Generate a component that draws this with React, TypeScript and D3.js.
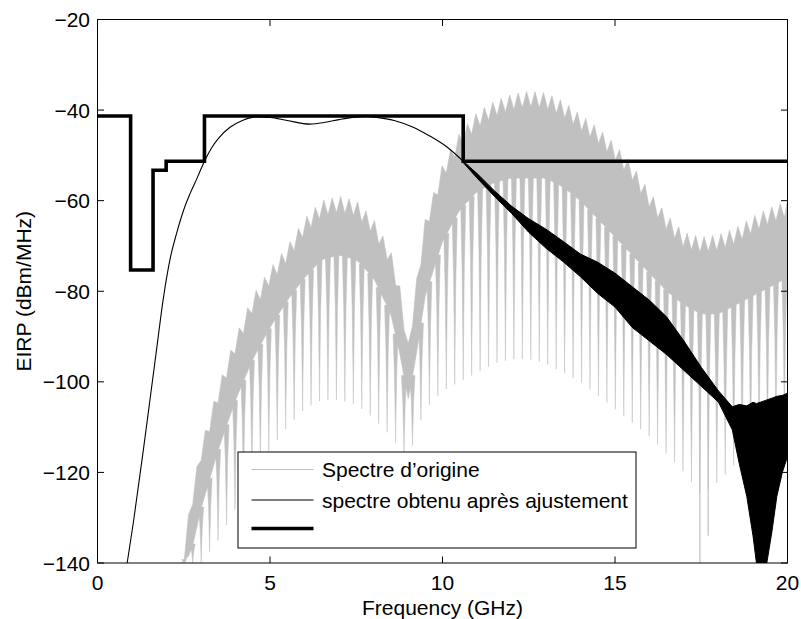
import React from "react";
import * as d3 from "d3";

// ---------- data ----------
const xTicks = [0, 5, 10, 15, 20];
const yTicks = [-140, -120, -100, -80, -60, -40, -20];

// FCC-like EIRP mask (step after)
const maskFreq = [0, 0.96, 1.61, 1.99, 3.1, 10.6, 20];
const maskLevel = [-41.3, -75.3, -53.3, -51.3, -41.3, -51.3, -51.3];

// "spectre obtenu après ajustement" – thin part
const fitFreq = [0.86, 1.05, 1.33, 1.52, 1.71, 1.9, 2.1, 2.3, 2.5, 2.68, 2.9, 3.1, 3.31, 3.5, 3.84, 4.2, 4.61, 5.0, 5.5, 6.16, 6.6, 7.0, 7.41, 7.8, 8.09, 8.6, 9.15, 9.6, 10.12, 10.6];
const fitLevel = [-140, -130.5, -115, -104, -93, -82, -73, -67, -62, -58.5, -54.8, -51.3, -48.3, -46.3, -43.8, -42.3, -41.5, -41.6, -42.3, -43.1, -42.7, -42.1, -41.6, -41.4, -41.6, -42.3, -43.8, -45.6, -48.1, -51.3];

// "spectre obtenu après ajustement" – oscillating band (envelopes)
const bandFreq = [10.6, 11.0, 11.5, 12.0, 12.5, 13.0, 13.5, 14.0, 14.5, 15.0, 15.5, 16.0, 16.5, 17.0, 17.5, 18.0, 18.4, 18.6, 18.82, 19.0, 19.1, 19.4, 19.55, 19.69, 19.85, 20.0];
const bandUpper = [-51.3, -54.0, -57.8, -61.2, -64.0, -66.3, -69.0, -71.8, -73.6, -76.0, -79.0, -82.0, -85.7, -91.0, -96.8, -102.0, -105.5, -105.0, -105.3, -104.5, -104.8, -104.0, -103.6, -103.2, -103.0, -102.5];
const bandLower = [-51.6, -55.0, -59.0, -62.8, -67.0, -70.5, -73.5, -76.8, -80.5, -83.5, -88.0, -91.0, -94.0, -97.5, -101.0, -104.5, -110.6, -118, -125.3, -134, -140, -140, -133, -125.3, -120, -116.5];

// "Spectre d'origine" – envelopes: top of lobes, bottom of solid band, depth of nulls
const greyFreq = [2.44, 2.7, 3.0, 3.5, 4.0, 4.5, 5.0, 5.5, 6.0, 6.5, 7.0, 7.5, 8.0, 8.5, 8.8, 9.0, 9.2, 9.5, 10.0, 10.5, 11.0, 11.5, 12.0, 12.5, 13.0, 13.5, 14.0, 14.5, 15.0, 15.5, 16.0, 16.5, 17.0, 17.5, 18.0, 18.5, 19.0, 19.5, 20.0];
const greyTop = [-140, -126, -114, -101, -90, -81, -75, -70, -64, -60, -59, -60, -64, -71, -80, -92, -80, -64, -52, -45, -40.5, -38, -36.5, -35.8, -36.2, -38, -41, -43.8, -47.5, -52, -58, -63, -67, -68, -67.5, -66, -63.5, -61.5, -60];
const greyBand = [-140, -138, -128, -115, -104, -95, -88, -82, -77, -73, -72, -73, -77, -85, -95, -104, -96, -81, -69, -62, -58, -56, -55, -55, -55, -57, -60, -64, -68, -72, -76, -80, -83, -85, -85, -83, -81, -79, -77];
const greyNull = [-140, -140, -140, -135, -128, -120, -115, -110, -106, -104, -104, -105, -108, -112, -115, -118, -112, -106, -102, -100, -98, -96, -95, -95, -96, -98, -100, -103, -106, -109, -112, -116, -120, -125, -122, -118, -115, -112, -110];
const greyDeepFreq = [17.46, 17.7];
const greyDeepLevel = [-140, -134];
const combPeriod = 0.245; // GHz between the fine teeth of the original spectrum

const legendLabels = ["Spectre d\u2019origine", "spectre obtenu apr\u00e8s ajustement", ""];

// ---------- layout ----------
const W = 801;
const H = 619;
const left = 97.5;
const right = 787.5;
const top = 19.5;
const bottom = 563;
const FONT = "'Liberation Sans', Arial, Helvetica, sans-serif";
const GREY = "#c0c0c0";

export default function App() {
  const x = d3.scaleLinear().domain([0, 20]).range([left, right]);
  const y = d3.scaleLinear().domain([-140, -20]).range([bottom, top]);

  // piecewise scales through the read envelopes
  const topS = d3.scaleLinear().domain(greyFreq).range(greyTop).clamp(true);
  const bandS = d3.scaleLinear().domain(greyFreq).range(greyBand).clamp(true);
  const nullS = d3.scaleLinear().domain(greyFreq).range(greyNull).clamp(true);

  const f0 = greyFreq[0];
  const f1 = greyFreq[greyFreq.length - 1];
  const nulls = d3
    .range(Math.ceil((f0 - greyDeepFreq[0]) / combPeriod), Math.floor((f1 - greyDeepFreq[0]) / combPeriod) + 1)
    .map((k) => greyDeepFreq[0] + k * combPeriod);

  // solid part with notched top
  const topPts: { f: number; t: number; b: number }[] = [];
  topPts.push({ f: f0, t: topS(f0), b: bandS(f0) });
  nulls.forEach((fn) => {
    const b = bandS(fn);
    topPts.push({ f: fn, t: Math.max(b, topS(fn) - 3.5), b });
    const fc = fn + combPeriod / 2;
    if (fc < f1) topPts.push({ f: fc, t: topS(fc), b: bandS(fc) });
  });
  topPts.push({ f: f1, t: topS(f1), b: bandS(f1) });
  const solidArea = d3.area<any>().x((d) => x(d.f)).y0((d) => y(d.b)).y1((d) => y(d.t))(topPts) || "";

  // strips hanging from the solid part (between white notches), tapering to the nulls
  const hw = combPeriod * 0.3;
  const spikes = nulls.map((fn) => {
    const b = bandS(fn);
    const n = nullS(fn);
    const pts: [number, number][] = [
      [x(fn - hw), y(b) - 1],
      [x(fn - hw * 0.45), y(b + (n - b) * 0.35)],
      [x(fn - hw * 0.12), y(b + (n - b) * 0.8)],
      [x(fn), y(n)],
      [x(fn + hw * 0.12), y(b + (n - b) * 0.8)],
      [x(fn + hw * 0.45), y(b + (n - b) * 0.35)],
      [x(fn + hw), y(b) - 1],
    ];
    return d3.line()(pts) + "Z";
  });

  const fitLine = d3.line<number>().x((_, i) => x(fitFreq[i])).y((v) => y(v)).curve(d3.curveMonotoneX)(fitLevel) || "";
  const band = bandFreq.map((f, i) => ({ f, u: bandUpper[i], l: bandLower[i] }));
  const bandArea = d3.area<any>().x((d) => x(d.f)).y0((d) => y(d.l)).y1((d) => y(d.u))(band) || "";

  const maskPath = d3
    .line<number>()
    .x((_, i) => x(maskFreq[i]))
    .y((v) => y(v))
    .curve(d3.curveStepAfter)(maskLevel) || "";

  const tickLen = 6.5;
  const legX = 238, legY = 452, legW = 398, legH = 96;
  const rowY = [469.5, 500, 528.5];

  return (
    <div style={{ position: "absolute", left: 0, top: 0, width: W, height: H, background: "#fff" }}>
      <svg width={W} height={H} viewBox={`0 0 ${W} ${H}`} style={{ display: "block" }}>
        <defs>
          <clipPath id="plotClip">
            <rect x={left} y={top} width={right - left} height={bottom - top} />
          </clipPath>
        </defs>
        <rect x={0} y={0} width={W} height={H} fill="#fff" />
        <g clipPath="url(#plotClip)">
          {spikes.map((d, i) => (
            <path key={i} d={d} fill={GREY} stroke={GREY} strokeWidth={0.5} />
          ))}
          <path d={solidArea} fill={GREY} stroke={GREY} strokeWidth={0.6} />
          {greyDeepFreq.map((f, i) => (
            <line key={i} x1={x(f)} x2={x(f)} y1={y(-84)} y2={y(greyDeepLevel[i])} stroke={GREY} strokeWidth={1.2} />
          ))}
          <path d={fitLine} fill="none" stroke="#000" strokeWidth={1.1} />
          <path d={bandArea} fill="#000" stroke="#000" strokeWidth={1} />
          <path d={maskPath} fill="none" stroke="#000" strokeWidth={3.6} strokeLinejoin="miter" />
        </g>
        {/* axes box */}
        <rect x={left} y={top} width={right - left} height={bottom - top} fill="none" stroke="#000" strokeWidth={1} />
        {xTicks.map((t) => (
          <g key={"x" + t}>
            <line x1={x(t)} x2={x(t)} y1={bottom} y2={bottom - tickLen} stroke="#000" strokeWidth={1} />
            <line x1={x(t)} x2={x(t)} y1={top} y2={top + tickLen} stroke="#000" strokeWidth={1} />
            <text x={x(t)} y={590} textAnchor="middle" fontFamily={FONT} fontSize={21} fill="#000">
              {t}
            </text>
          </g>
        ))}
        {yTicks.map((t) => (
          <g key={"y" + t}>
            <line x1={left} x2={left + tickLen} y1={y(t)} y2={y(t)} stroke="#000" strokeWidth={1} />
            <line x1={right} x2={right - tickLen} y1={y(t)} y2={y(t)} stroke="#000" strokeWidth={1} />
            <text x={90} y={y(t) + 7.5} textAnchor="end" fontFamily={FONT} fontSize={21} fill="#000">
              {t < 0 ? "\u2212" + Math.abs(t) : t}
            </text>
          </g>
        ))}
        <text x={(left + right) / 2} y={615} textAnchor="middle" fontFamily={FONT} fontSize={21} fill="#000">
          Frequency (GHz)
        </text>
        <text
          transform={`translate(31,${(top + bottom) / 2}) rotate(-90)`}
          textAnchor="middle"
          fontFamily={FONT}
          fontSize={21}
          fill="#000"
        >
          EIRP (dBm/MHz)
        </text>
        {/* legend */}
        <rect x={legX} y={legY} width={legW} height={legH} fill="#fff" stroke="#000" strokeWidth={1} />
        <line x1={251.5} x2={313.5} y1={rowY[0]} y2={rowY[0]} stroke={GREY} strokeWidth={1} />
        <line x1={251.5} x2={313.5} y1={rowY[1]} y2={rowY[1]} stroke="#000" strokeWidth={1.1} />
        <line x1={251.5} x2={313.5} y1={rowY[2]} y2={rowY[2]} stroke="#000" strokeWidth={3.6} />
        {legendLabels.map((l, i) => (
          <text key={i} x={322} y={rowY[i] + 7.5} fontFamily={FONT} fontSize={21} fill="#000">
            {l}
          </text>
        ))}
      </svg>
    </div>
  );
}
